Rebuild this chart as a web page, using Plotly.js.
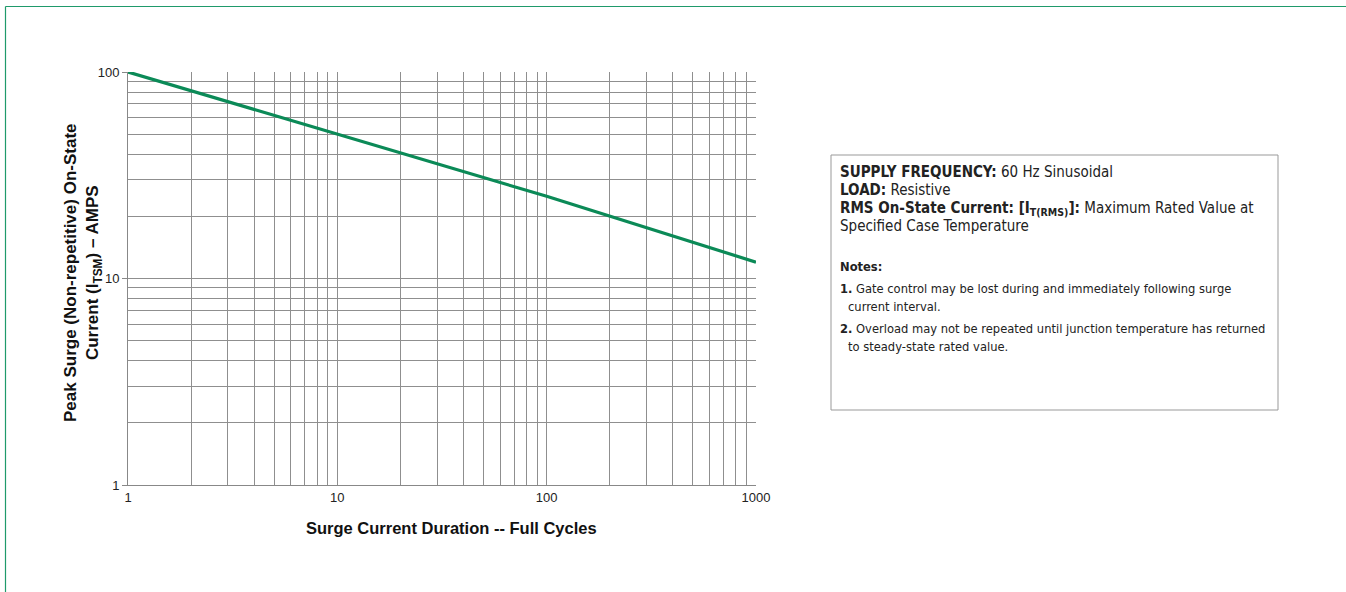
<!DOCTYPE html>
<html>
<head>
<meta charset="utf-8">
<script src="https://cdn.plot.ly/plotly-3.0.1.min.js"></script>
<style>html,body{margin:0;padding:0;background:#fff;}#chart{width:1346px;height:592px;}</style>
</head>
<body>
<div id="chart"></div>
<script>
// Data
const cycles = [1, 10, 100, 1000];
const surgeAmps = [100, 50, 25, 12];
const xTickVals = [1, 10, 100, 1000];
const xTickText = ['1', '10', '100', '1000'];
const yTickVals = [1, 10, 100];
const yTickText = ['1', '10', '100'];
const xMinorVals = [2,3,4,5,6,7,8,9,20,30,40,50,60,70,80,90,200,300,400,500,600,700,800,900];
const yMinorVals = [2,3,4,5,6,7,8,9,20,30,40,50,60,70,80,90];

const xTitle = '<b>Surge Current Duration -- Full Cycles</b>';
const yTitle = '<b>Peak Surge (Non-repetitive) On-State<br>Current (I<sub>TSM</sub>) – AMPS</b>';

const infoLines = [
  '<b>SUPPLY FREQUENCY:</b> 60 Hz Sinusoidal',
  '<b>LOAD:</b> Resistive',
  '<b>RMS On-State Current: [I<sub>T(RMS)</sub>]:</b> Maximum Rated Value at',
  'Specified Case Temperature'
];
const noteLines = [
  '<b>Notes:</b>',
  '<b>1.</b> Gate control may be lost during and immediately following surge',
  'current interval.',
  '<b>2.</b> Overload may not be repeated until junction temperature has returned',
  'to steady-state rated value.'
];

// Layout geometry (pixels)
const W = 1346, H = 592;
const L = 128, R = 756, T = 72, B = 485;
const pw = R - L, ph = B - T;
const px = x => (x - L) / pw;
const py = y => (B - y) / ph;

const narrow = '"Liberation Sans Narrow", "DejaVu Sans Condensed", Arial, sans-serif';
const green = '#0b8a57';
const gridCol = '#8f8f8f';

const annotations = [];
const infoY = [172, 190, 208, 226];
infoLines.forEach((t, i) => annotations.push({
  xref: 'paper', yref: 'paper', x: px(838), y: py(infoY[i]), xanchor: 'left', yanchor: 'middle',
  text: t, showarrow: false, align: 'left', font: {family: narrow, size: 15, color: '#222'}
}));
const noteY = [266, 288, 306, 328, 346];
noteLines.forEach((t, i) => annotations.push({
  xref: 'paper', yref: 'paper', x: px(i === 2 || i === 4 ? 846 : 838), y: py(noteY[i]), xanchor: 'left', yanchor: 'middle',
  text: t, showarrow: false, align: 'left', font: {family: narrow, size: 12.8, color: '#222'}
}));
// axis titles placed precisely
annotations.push({
  xref: 'paper', yref: 'paper', x: px(83), y: py(273), xanchor: 'center', yanchor: 'middle',
  text: yTitle, textangle: -90, showarrow: false, font: {size: 17, color: '#111'}
});
annotations.push({
  xref: 'paper', yref: 'paper', x: px(451), y: py(528), xanchor: 'center', yanchor: 'middle',
  text: xTitle, showarrow: false, font: {size: 16.5, color: '#111'}
});

const shapes = [
  {type: 'rect', xref: 'paper', yref: 'paper', x0: px(831), x1: px(1278), y0: py(155), y1: py(410),
   line: {color: '#999', width: 1}, fillcolor: 'rgba(0,0,0,0)'},
  {type: 'line', xref: 'paper', yref: 'paper', x0: px(5.5), x1: px(1350), y0: py(6.5), y1: py(6.5),
   line: {color: '#1f9a6b', width: 1.2}},
  {type: 'line', xref: 'paper', yref: 'paper', x0: px(5.5), x1: px(5.5), y0: py(6.5), y1: py(600),
   line: {color: '#1f9a6b', width: 1.2}}
];

const trace = {
  x: cycles, y: surgeAmps, type: 'scatter', mode: 'lines',
  line: {color: green, width: 3.2}, hoverinfo: 'x+y', showlegend: false
};

const layout = {
  width: W, height: H,
  margin: {l: L, r: W - R, t: T, b: H - B},
  paper_bgcolor: '#fff', plot_bgcolor: '#fff',
  font: {family: 'Arial, "Liberation Sans", sans-serif', color: '#222'},
  xaxis: {
    type: 'log', range: [0, 3], tickvals: xTickVals, ticktext: xTickText,
    showgrid: true, gridcolor: gridCol, gridwidth: 1,
    minor: {tickvals: xMinorVals, showgrid: true, gridcolor: gridCol, gridwidth: 1, ticks: ''},
    showline: true, linecolor: '#888', linewidth: 1, mirror: false,
    ticks: '', tickfont: {size: 13, color: '#222'}, zeroline: false,
    automargin: false
  },
  yaxis: {
    type: 'log', range: [0, 2], tickvals: yTickVals, ticktext: yTickText,
    showgrid: true, gridcolor: gridCol, gridwidth: 1,
    minor: {tickvals: yMinorVals, showgrid: true, gridcolor: gridCol, gridwidth: 1, ticks: ''},
    showline: true, linecolor: '#888', linewidth: 1,
    ticks: 'outside', ticklen: 5, tickcolor: '#888', tickfont: {size: 13, color: '#222'}, zeroline: false,
    automargin: false
  },
  shapes: shapes,
  annotations: annotations
};

Plotly.newPlot('chart', [trace], layout, {displayModeBar: false, staticPlot: true});
</script>
</body>
</html>
